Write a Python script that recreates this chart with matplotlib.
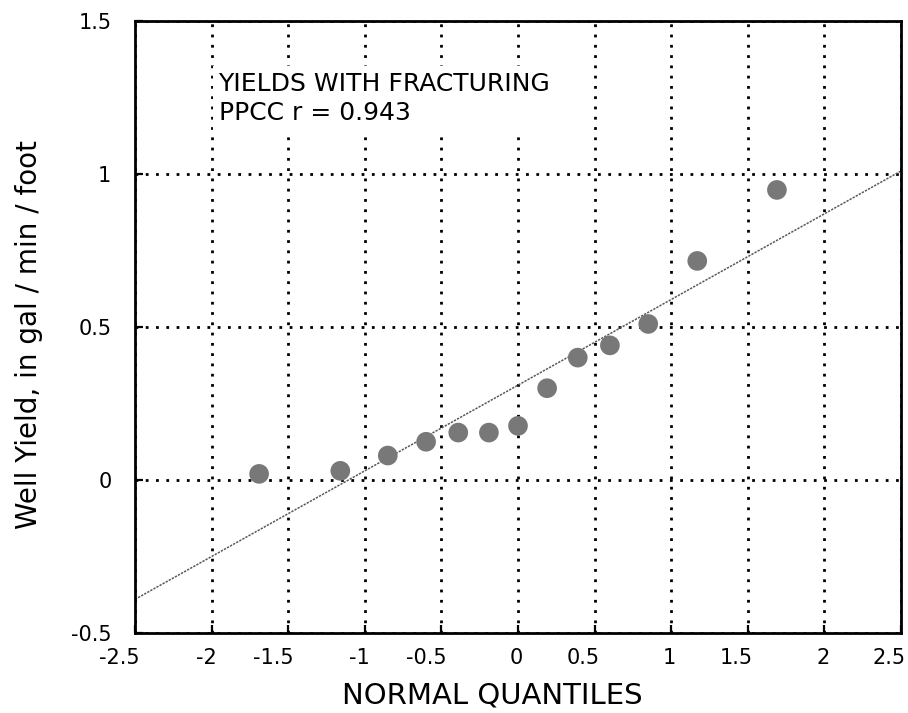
import numpy as np
import matplotlib
matplotlib.use("Agg")
import matplotlib.pyplot as plt
from matplotlib.transforms import ScaledTranslation

plt.rcParams['font.family'] = ['DejaVu Sans']

# normal quantiles and observed well yields (gal/min/foot)
quantiles = [-1.69, -1.16, -0.85, -0.60, -0.39, -0.19, 0.0, 0.19, 0.39, 0.60, 0.85, 1.17, 1.69]
yields = [0.02, 0.03, 0.08, 0.125, 0.155, 0.155, 0.177, 0.30, 0.40, 0.44, 0.51, 0.716, 0.948]

# fitted straight line
fit_x = [-2.5, 2.5]
fit_y = [-0.39, 1.01]

xticks = [-2.5, -2, -1.5, -1, -0.5, 0, 0.5, 1, 1.5, 2, 2.5]
yticks = [-0.5, 0, 0.5, 1, 1.5]

fig = plt.figure(figsize=(9.08, 7.13), dpi=100)
ax = fig.add_axes([0.1487, 0.1122, 0.8436, 0.8583])

ax.set_xlim(-2.5, 2.5)
ax.set_ylim(-0.5, 1.5)
ax.set_xticks(xticks)
ax.set_yticks(yticks)
ax.set_xticklabels([("%g" % t) for t in xticks])
ax.set_yticklabels([("%g" % t) for t in yticks])

ax.grid(True, color='black', linestyle=(0, (1, 2.7)), linewidth=2.0)
ax.set_axisbelow(True)

ax.plot(fit_x, fit_y, color='0.35', linewidth=1.1, linestyle=(0, (1.5, 0.8)), zorder=2)
ax.scatter(quantiles, yields, s=200, color='0.47', edgecolors='none', zorder=3)

ax.text(-1.955, 1.335, "YIELDS WITH FRACTURING\nPPCC r = 0.943", fontsize=18,
        va='top', ha='left', linespacing=1.3,
        bbox=dict(facecolor='white', edgecolor='none', pad=4), zorder=4)

for s in ax.spines.values():
    s.set_linewidth(2.0)
ax.tick_params(direction='in', length=6, width=1.6, labelsize=15)
ax.tick_params(axis='x', pad=11)
ax.tick_params(axis='y', pad=17)

# x tick labels sit right-aligned, just past their tick
shift = ScaledTranslation(5 / 100, 0, fig.dpi_scale_trans)
for lab in ax.get_xticklabels():
    lab.set_ha('right')
    lab.set_transform(lab.get_transform() + shift)

ax.set_xlabel("NORMAL QUANTILES", fontsize=21, labelpad=5)
ax.xaxis.set_label_coords(0.467, -0.08)
ax.set_ylabel("Well Yield, in gal / min / foot", fontsize=20, labelpad=20)
ax.yaxis.label.set_y(0.487)

fig.savefig("out.png", dpi=100)
